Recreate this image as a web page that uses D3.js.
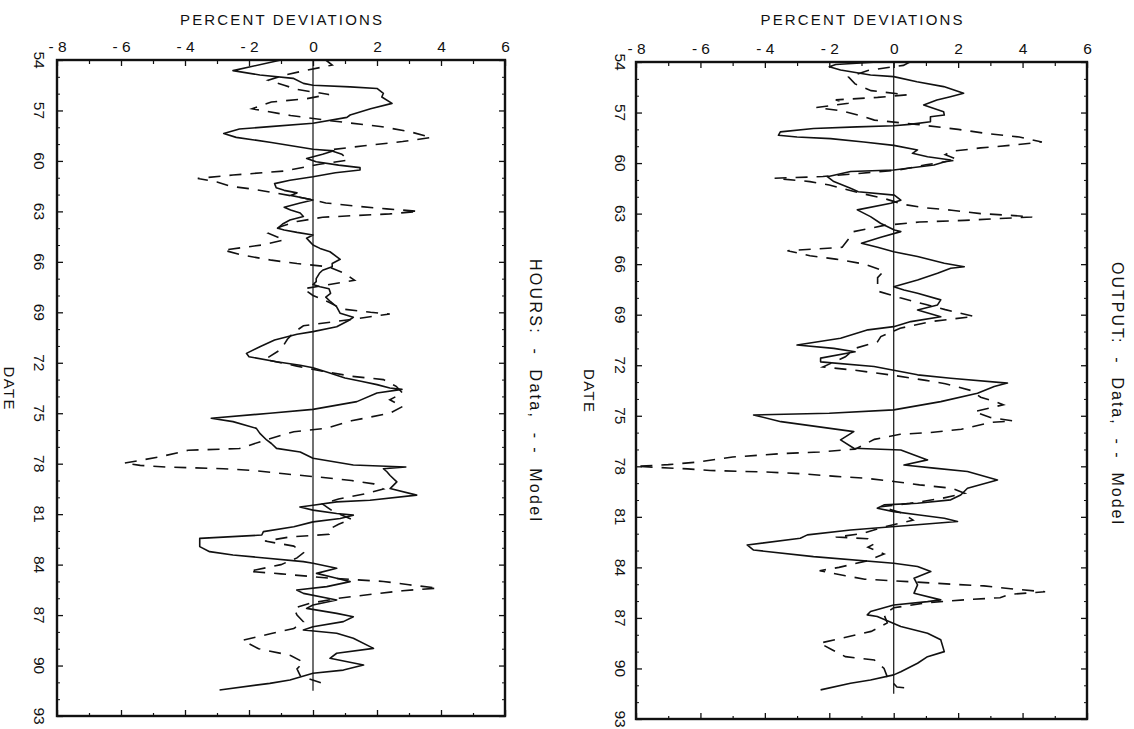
<!DOCTYPE html>
<html>
<head>
<meta charset="utf-8">
<script src="https://cdn.jsdelivr.net/npm/d3@7"></script>
<style>
  html, body { margin: 0; padding: 0; background: #fff; }
  svg text { font-family: "Liberation Sans", Arial, Helvetica, sans-serif; fill: #111; }
</style>
</head>
<body>
<svg id="chart" width="1134" height="729"></svg>
<script>
// ---- Data (year, percent deviation) ----
const hoursData = [
  [54.0,-1.0],[54.63,-2.5],[54.89,-1.66],[55.09,-0.62],[55.39,-0.3],[55.5,0.0],[55.6,1.16],[55.69,2.0],
  [55.98,2.2],[56.2,2.15],[56.58,2.47],[56.9,1.8],[57.27,1.16],[57.41,1.06],[57.76,0.0],[57.96,-1.35],
  [58.1,-2.3],[58.37,-2.79],[58.6,-2.4],[58.9,-1.3],[59.31,0.0],[59.4,0.65],[59.6,0.3],[59.85,-0.2],
  [60.05,0.1],[60.25,0.8],[60.4,1.47],[60.54,1.47],[60.7,0.7],[60.94,0.0],[61.15,-0.72],[61.35,-1.2],
  [61.6,-1.15],[61.75,-0.9],[61.9,-0.5],[62.05,-0.7],[62.2,-0.3],[62.32,0.0],[62.5,-0.4],[62.75,-0.9],
  [62.92,-0.7],[63.1,-0.4],[63.3,-0.3],[63.51,-0.72],[63.75,-0.95],[64.0,-1.1],[64.11,-0.9],[64.25,-0.5],
  [64.4,0.0],[64.6,-0.2],[64.8,-0.1],[65.0,0.0],[65.2,0.22],[65.4,0.53],[65.85,0.85],[66.1,0.6],
  [66.29,0.6],[66.5,0.3],[66.68,0.2],[67.0,0.1],[67.18,0.1],[67.35,0.0],[67.48,0.22],[67.6,0.5],
  [67.87,0.55],[68.1,0.4],[68.37,0.55],[68.67,0.74],[69.06,0.85],[69.3,1.26],[69.5,1.1],[69.86,0.74],
  [70.15,0.0],[70.3,-0.5],[70.65,-1.2],[71.05,-1.66],[71.44,-2.08],[71.64,-2.0],[71.94,-1.14],[72.15,-0.4],
  [72.3,0.0],[72.6,0.5],[72.9,1.0],[73.1,1.5],[73.3,2.0],[73.5,2.4],[73.58,2.78],[73.8,2.0],
  [74.31,1.37],[74.77,0.0],[75.0,-1.35],[75.3,-3.18],[75.5,-2.5],[75.9,-1.77],[76.2,-1.66],[76.59,-1.45],
  [76.8,-1.3],[77.09,-1.14],[77.3,-0.4],[77.68,0.0],[78.08,1.26],[78.2,2.9],[78.3,2.2],[78.48,2.31],
  [78.7,2.41],[79.08,2.62],[79.48,2.41],[79.87,3.24],[80.17,1.78],[80.27,0.74],[80.47,0.0],[80.57,-0.41],
  [80.76,0.0],[80.96,0.74],[81.06,1.26],[81.26,0.85],[81.46,0.0],[81.75,-0.6],[82.04,-1.55],[82.24,-1.6],
  [82.44,-3.54],[82.93,-3.54],[83.23,-3.23],[83.43,-2.5],[83.82,-0.3],[83.92,0.0],[84.22,0.74],[84.52,0.11],
  [84.81,0.74],[85.01,1.16],[85.31,0.43],[85.51,-0.51],[85.71,-0.3],[86.1,0.74],[86.4,0.0],[86.6,-0.2],
  [86.9,0.74],[87.1,1.26],[87.39,0.95],[87.69,0.0],[87.89,-0.3],[88.08,0.74],[88.38,1.26],[88.98,1.89],
  [89.27,0.74],[89.57,0.53],[89.97,1.58],[90.27,0.95],[90.46,0.0],[90.86,-0.72],[91.06,-1.35],[91.45,-2.92]
];
const hoursModel = [
  [54.0,0.4],[54.3,0.6],[54.65,-0.3],[54.9,-0.9],[55.2,-1.4],[55.5,-0.9],[55.75,-0.5],[56.05,0.5],
  [56.3,-0.2],[56.5,-1.3],[56.9,-1.9],[57.3,-0.7],[57.6,0.5],[57.95,2.1],[58.25,3.0],[58.6,3.7],
  [58.85,2.8],[59.1,1.6],[59.35,0.5],[59.6,0.9],[59.95,1.1],[60.2,0.2],[60.6,-0.9],[60.84,-2.5],
  [61.04,-3.6],[61.25,-3.0],[61.5,-2.6],[61.7,-1.8],[61.9,-1.2],[62.2,-0.3],[62.5,0.4],[62.7,1.4],
  [62.85,2.3],[63.0,3.3],[63.15,2.4],[63.25,1.3],[63.35,0.3],[63.6,-0.5],[63.9,-1.0],[64.3,-1.4],
  [64.7,-0.9],[65.0,-1.6],[65.3,-2.8],[65.6,-2.2],[65.9,-1.3],[66.1,-0.5],[66.3,0.5],[66.7,1.0],
  [67.1,1.3],[67.6,-0.3],[68.0,0.0],[68.4,0.5],[68.8,0.9],[69.0,1.8],[69.1,2.4],[69.4,1.3],
  [69.8,-0.3],[70.2,-0.6],[70.6,-0.8],[71.2,-1.0],[71.8,-1.5],[72.2,-0.5],[72.5,0.3],[72.8,1.2],
  [73.0,2.2],[73.4,2.6],[73.8,2.8],[74.2,2.4],[74.6,2.8],[75.0,2.4],[75.45,1.2],[75.9,0.4],
  [76.1,-0.6],[76.6,-1.5],[77.1,-2.3],[77.2,-3.9],[77.6,-4.8],[77.97,-5.9],[78.1,-5.4],[78.2,-4.6],
  [78.25,-3.7],[78.3,-2.8],[78.4,-1.9],[78.6,-0.9],[78.8,0.2],[79.0,1.2],[79.2,1.9],[79.5,2.2],
  [79.8,1.6],[80.1,0.8],[80.4,0.3],[80.8,0.6],[81.3,1.2],[81.6,0.8],[81.9,0.5],[82.2,0.5],
  [82.35,-0.7],[82.6,-1.5],[82.9,-0.6],[83.3,-0.3],[83.6,-0.5],[84.0,-1.0],[84.4,-2.0],[84.55,-1.0],
  [84.8,0.5],[85.0,2.2],[85.2,3.0],[85.4,3.9],[85.55,2.8],[85.75,1.9],[86.0,0.8],[86.3,-0.1],
  [86.6,-0.6],[87.0,-0.5],[87.4,-0.3],[87.8,-0.6],[88.1,-1.3],[88.5,-2.2],[89.0,-1.7],[89.4,-0.7],
  [89.8,-0.3],[90.2,-0.5],[90.6,-0.4],[91.0,0.2],[91.2,0.5]
];
const outputData = [
  [54.0,-0.5],[54.15,-1.8],[54.28,-2.0],[54.47,-1.65],[54.77,-0.72],[54.87,0.0],[55.17,0.72],[55.46,1.55],
  [55.86,2.17],[56.06,1.76],[56.26,1.34],[56.55,0.93],[56.95,1.55],[57.15,1.57],[57.25,1.14],[57.55,1.14],
  [57.7,0.5],[57.78,0.0],[57.85,-1.14],[57.95,-2.49],[58.15,-3.52],[58.35,-3.58],[58.45,-3.0],[58.55,-1.96],
  [58.75,-0.93],[58.95,0.0],[59.22,0.74],[59.42,0.58],[59.62,1.05],[59.82,1.77],[60.11,1.25],[60.41,0.0],
  [60.5,-1.34],[60.81,-2.06],[61.1,-1.86],[61.5,-1.34],[61.7,-1.1],[61.9,0.02],[62.2,0.22],[62.39,-0.09],
  [62.78,-1.13],[63.18,-0.72],[63.57,-0.41],[63.97,0.02],[64.07,0.22],[64.4,-0.4],[64.76,-1.0],[65.0,-0.5],
  [65.26,0.0],[65.55,0.74],[65.95,1.57],[66.15,2.19],[66.24,1.77],[66.54,1.36],[66.94,0.74],[67.34,0.0],
  [67.53,0.32],[67.73,0.74],[68.12,1.46],[68.42,1.36],[68.72,0.74],[69.12,1.46],[69.41,0.53],[69.71,0.0],
  [69.9,-0.8],[70.4,-1.65],[70.8,-3.0],[71.0,-1.86],[71.2,-1.2],[71.58,-2.27],[71.8,-2.27],[72.08,-0.61],
  [72.3,0.0],[72.57,0.74],[72.77,1.77],[73.06,3.53],[73.26,3.12],[73.66,2.6],[74.16,1.46],[74.65,0.0],
  [74.85,-2.0],[74.95,-4.35],[75.35,-3.5],[75.94,-1.24],[76.43,-1.65],[76.93,-1.24],[77.03,0.22],[77.62,1.05],
  [77.92,0.32],[78.11,1.25],[78.31,2.29],[78.81,3.22],[79.3,2.29],[79.7,2.08],[79.99,1.77],[80.19,0.74],
  [80.29,-0.3],[80.49,-0.51],[80.69,0.0],[80.88,0.74],[81.08,1.57],[81.28,1.98],[81.48,0.63],[81.78,-1.34],
  [82.07,-2.68],[82.27,-2.9],[82.67,-4.55],[82.97,-4.35],[83.36,-2.49],[83.75,0.0],[83.95,0.74],[84.25,1.15],
  [84.64,0.63],[85.04,0.74],[85.53,0.63],[85.93,1.46],[86.03,1.05],[86.23,0.0],[86.62,-0.72],[86.82,-0.82],
  [86.92,-0.51],[87.51,0.22],[87.91,1.05],[88.3,1.46],[89.0,1.57],[89.3,1.05],[89.69,0.74],[90.19,0.22],
  [90.38,0.0],[90.68,-0.72],[90.88,-1.34],[91.27,-2.27]
];
const outputModel = [
  [54.0,0.5],[54.2,0.3],[54.5,-0.8],[54.9,-1.4],[55.3,-1.2],[55.7,-0.7],[55.95,0.4],[56.1,-0.5],
  [56.25,-1.8],[56.45,-1.4],[56.7,-2.4],[56.9,-1.6],[57.2,-1.0],[57.45,-0.6],[57.7,0.7],[58.0,2.0],
  [58.25,2.9],[58.45,3.9],[58.75,4.6],[58.95,3.6],[59.1,2.7],[59.3,1.8],[59.5,1.6],[59.8,2.0],
  [60.1,1.0],[60.4,0.2],[60.6,-1.0],[60.8,-2.2],[60.9,-3.7],[61.1,-2.6],[61.3,-2.0],[61.5,-1.6],
  [61.8,-1.0],[62.1,-0.3],[62.45,0.3],[62.64,0.9],[62.8,1.8],[63.0,2.7],[63.1,3.6],[63.2,4.3],
  [63.3,3.2],[63.4,2.2],[63.5,0.8],[63.7,-0.3],[64.07,-1.25],[64.5,-1.4],[65.0,-1.6],[65.1,-2.4],
  [65.2,-3.3],[65.5,-2.6],[65.7,-1.8],[66.0,-0.9],[66.4,-0.3],[66.8,-0.5],[67.6,-0.5],[68.0,0.2],
  [68.4,1.0],[68.7,1.6],[69.1,2.5],[69.4,1.2],[69.8,0.2],[70.3,-0.4],[70.6,-0.5],[71.0,-1.2],
  [71.5,-1.5],[72.1,-2.2],[72.3,-1.2],[72.6,0.0],[72.9,1.0],[73.1,1.6],[73.5,2.4],[73.9,2.7],
  [74.2,3.2],[74.35,3.4],[74.75,2.5],[75.1,3.0],[75.3,3.7],[75.4,3.0],[75.8,2.1],[76.0,1.1],
  [76.1,0.2],[76.4,-0.6],[76.98,-1.2],[77.15,-2.3],[77.25,-3.5],[77.45,-5.0],[77.75,-6.1],[77.9,-7.0],
  [78.0,-8.0],[78.1,-7.0],[78.15,-6.4],[78.25,-5.7],[78.3,-4.7],[78.35,-3.8],[78.45,-2.8],[78.6,-1.8],
  [78.7,-0.9],[78.9,0.0],[79.1,0.8],[79.3,1.8],[79.6,2.2],[79.9,1.5],[80.2,0.5],[80.4,-0.4],
  [80.8,0.3],[81.2,0.6],[81.6,-0.3],[82.0,-1.0],[82.2,-1.8],[82.3,-0.8],[82.6,-0.6],[82.8,-0.8],
  [83.2,-0.3],[83.6,-0.8],[84.0,-1.7],[84.2,-2.3],[84.5,-1.5],[84.7,-0.9],[84.85,0.5],[85.0,1.8],
  [85.1,2.8],[85.3,3.8],[85.45,4.7],[85.6,3.6],[85.8,3.3],[85.9,2.4],[86.1,1.0],[86.4,0.0],
  [86.8,-0.3],[87.3,-0.2],[87.8,-0.7],[88.2,-1.6],[88.5,-2.3],[88.9,-1.9],[89.3,-1.5],[89.5,-0.6],
  [90.0,-0.3],[90.5,-0.2],[91.1,0.1],[91.2,0.6]
];
const pctTicks = [-8, -6, -4, -2, 0, 2, 4, 6];
const pctMinorTicks = [-7, -5, -3, -1, 1, 3, 5];
const dateTicks = [54, 57, 60, 63, 66, 69, 72, 75, 78, 81, 84, 87, 90, 93];
const zeroSpan = [54, 91.5];
const panelTitles = ["HOURS:  -  Data,  - -  Model", "OUTPUT:  -  Data,  - -  Model"];
const axisTitleX = "PERCENT DEVIATIONS";
const axisTitleY = "DATE";

// ---- Layout ----
const panels = [
  { data: hoursData, model: hoursModel, title: panelTitles[0],
    x0: 57, x1: 505, y0: 60, y1: 716, titleX: 535, titleY: 390, dateLabelX: 39, dateTitleX: 9 },
  { data: outputData, model: outputModel, title: panelTitles[1],
    x0: 636, x1: 1087, y0: 62, y1: 719, titleX: 1117, titleY: 393, dateLabelX: 620, dateTitleX: 589 }
];

const svg = d3.select("#chart");
const fmt = d => d < 0 ? "- " + Math.abs(d) : String(d);
const allYearTicks = d3.range(54, 94);

panels.forEach(p => {
  const x = d3.scaleLinear().domain([-8, 6]).range([p.x0, p.x1]);
  const y = d3.scaleLinear().domain([54, 93]).range([p.y0, p.y1]);
  const g = svg.append("g");

  // top axis with labels (ticks inside)
  const top = g.append("g").attr("transform", `translate(0,${p.y0})`)
    .call(d3.axisTop(x).tickValues(pctTicks).tickSize(-6).tickPadding(8).tickFormat(fmt));
  top.select(".domain").remove();
  top.selectAll("line").attr("stroke", "#111").attr("stroke-width", 1.3);
  top.selectAll("text").attr("font-size", 15.5).attr("fill", "#111");
  g.append("g").attr("transform", `translate(0,${p.y0})`)
    .call(d3.axisTop(x).tickValues(pctMinorTicks).tickSize(-4).tickFormat(""))
    .call(s => { s.select(".domain").remove(); s.selectAll("line").attr("stroke", "#111").attr("stroke-width", 1.2); });

  // bottom axis (ticks inside, no labels)
  g.append("g").attr("transform", `translate(0,${p.y1})`)
    .call(d3.axisBottom(x).tickValues(pctTicks).tickSize(-6).tickFormat(""))
    .call(s => { s.select(".domain").remove(); s.selectAll("line").attr("stroke", "#111").attr("stroke-width", 1.3); });
  g.append("g").attr("transform", `translate(0,${p.y1})`)
    .call(d3.axisBottom(x).tickValues(pctMinorTicks).tickSize(-3).tickFormat(""))
    .call(s => { s.select(".domain").remove(); s.selectAll("line").attr("stroke", "#111").attr("stroke-width", 1.2); });

  // left / right axes (ticks inside)
  [[p.x0, d3.axisLeft], [p.x1, d3.axisRight]].forEach(([xx, ax]) => {
    g.append("g").attr("transform", `translate(${xx},0)`)
      .call(ax(y).tickValues(dateTicks).tickSize(-6).tickFormat(""))
      .call(s => { s.select(".domain").remove(); s.selectAll("line").attr("stroke", "#111").attr("stroke-width", 1.3); });
    g.append("g").attr("transform", `translate(${xx},0)`)
      .call(ax(y).tickValues(allYearTicks.filter(v => !dateTicks.includes(v))).tickSize(-3).tickFormat(""))
      .call(s => { s.select(".domain").remove(); s.selectAll("line").attr("stroke", "#111").attr("stroke-width", 1); });
  });

  // frame
  g.append("rect").attr("x", p.x0).attr("y", p.y0)
    .attr("width", p.x1 - p.x0).attr("height", p.y1 - p.y0)
    .attr("fill", "none").attr("stroke", "#111").attr("stroke-width", 2.4);

  // date tick labels, rotated
  g.selectAll(".dl").data(dateTicks).enter().append("text")
    .attr("transform", d => `translate(${p.dateLabelX},${y(d)}) rotate(90)`)
    .attr("text-anchor", "middle").attr("dominant-baseline", "central")
    .attr("font-size", 15.5).text(d => d);

  // axis titles
  g.append("text").attr("x", (p.x0 + p.x1) / 2).attr("y", 25)
    .attr("text-anchor", "middle").attr("font-size", 15)
    .attr("textLength", 202).attr("lengthAdjust", "spacing").text(axisTitleX);
  g.append("text").attr("transform", `translate(${p.dateTitleX},${(p.y0 + p.y1) / 2}) rotate(90)`)
    .attr("text-anchor", "middle").attr("dominant-baseline", "central")
    .attr("font-size", 15).attr("textLength", 43).attr("lengthAdjust", "spacing").text(axisTitleY);
  g.append("text").attr("transform", `translate(${p.titleX},${p.titleY}) rotate(90)`)
    .attr("text-anchor", "middle").attr("dominant-baseline", "central")
    .attr("font-size", 16).attr("xml:space", "preserve").style("white-space", "pre")
    .attr("textLength", 262).attr("lengthAdjust", "spacing").text(p.title);

  // zero line
  g.append("line").attr("x1", x(0)).attr("x2", x(0))
    .attr("y1", y(zeroSpan[0])).attr("y2", y(zeroSpan[1]))
    .attr("stroke", "#111").attr("stroke-width", 1.2);

  const line = d3.line().x(d => x(d[1])).y(d => y(d[0]));
  g.append("path").datum(p.model).attr("d", line)
    .attr("fill", "none").attr("stroke", "#111").attr("stroke-width", 1.6)
    .attr("stroke-dasharray", "12,9");
  g.append("path").datum(p.data).attr("d", line)
    .attr("fill", "none").attr("stroke", "#111").attr("stroke-width", 1.6)
    .attr("stroke-linejoin", "round");
});
</script>
</body>
</html>
